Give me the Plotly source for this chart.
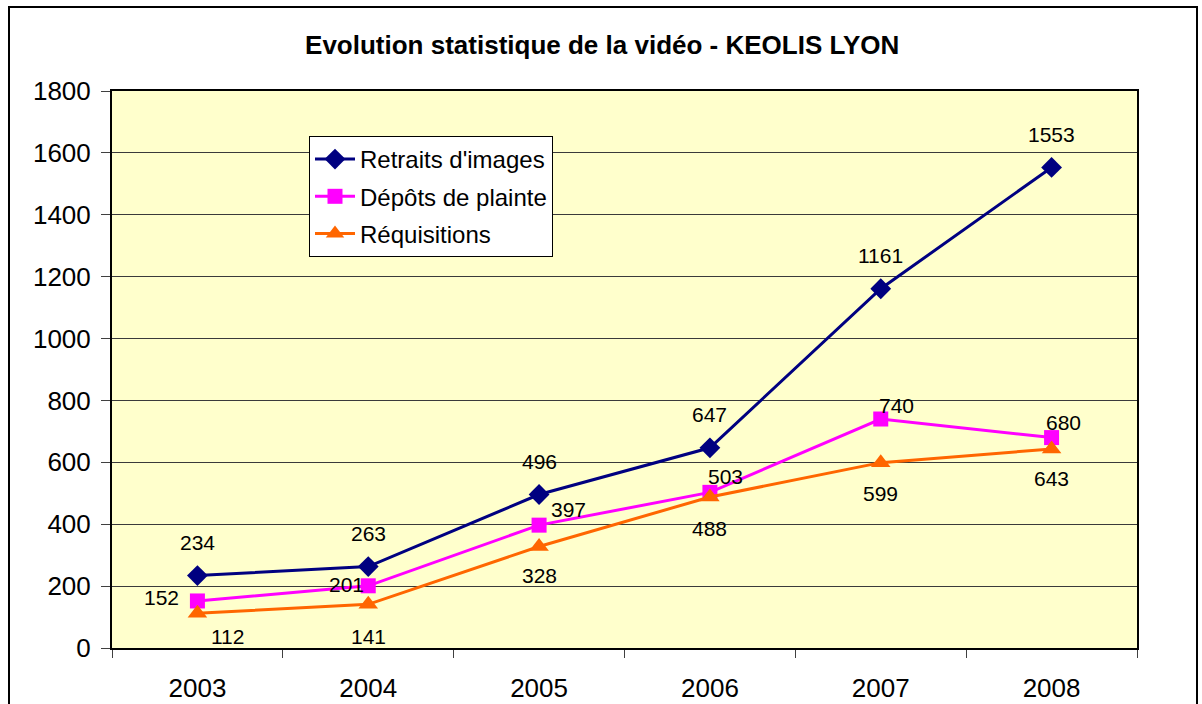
import plotly.graph_objects as go

years = ["2003", "2004", "2005", "2006", "2007", "2008"]
retraits = [234, 263, 496, 647, 1161, 1553]
depots = [152, 201, 397, 503, 740, 680]
requisitions = [112, 141, 328, 488, 599, 643]
y_ticks = [0, 200, 400, 600, 800, 1000, 1200, 1400, 1600, 1800]

title_text = "Evolution statistique de la vidéo - KEOLIS LYON"
names = ["Retraits d'images", "Dépôts de plainte", "Réquisitions"]

FONT = "Liberation Sans, Arial, sans-serif"

# label offsets (pixels) for the data labels, style only
ret_off = [(0, 33)] * 6
dep_off = [(-36, 3), (-22, 1), (29, 16), (16, 16), (16, 14), (12, 15)]
req_off = [(30, -23), (0, -32), (0, -29), (0, -32), (0, -31), (0, -29)]

fig = go.Figure()
series = [
    (retraits, names[0], "#000080", "diamond", 16, ret_off),
    (depots, names[1], "#FF00FF", "square", 15, dep_off),
    (requisitions, names[2], "#FF6600", "triangle-up", 17, req_off),
]
for k, (vals, name, col, sym, size, offs) in enumerate(series):
    fig.add_trace(go.Scatter(
        x=years, y=vals, name=name, mode="lines+markers",
        legendgroup=f"g{k}",
        line=dict(color=col, width=3),
        marker=dict(symbol=sym, size=size, color=col),
    ))
    for i, (yv, (dx, dy)) in enumerate(zip(vals, offs)):
        fig.add_annotation(x=i, y=yv, xref="x", yref="y", text=str(yv),
                           showarrow=False, xshift=dx, yshift=dy,
                           font=dict(family=FONT, size=21, color="black"))

fig.update_layout(
    width=1202, height=704,
    paper_bgcolor="white", plot_bgcolor="#FFFFCC",
    margin=dict(l=112, r=65, t=91, b=56),
    title=dict(text="<b>" + title_text + "</b>", x=0.501, xanchor="center",
               y=1 - 45 / 704, yanchor="middle",
               font=dict(family=FONT, size=26, color="black")),
    font=dict(family=FONT, color="black"),
    legend=dict(x=(309 - 112) / 1025, y=(648 - 136) / 557, xanchor="left", yanchor="top",
                bgcolor="white", bordercolor="black", borderwidth=1,
                font=dict(family=FONT, size=24, color="black"),
                traceorder="grouped", tracegroupgap=3, itemwidth=40),
    showlegend=True,
)
fig.update_xaxes(type="category", tickson="boundaries", ticks="outside", ticklen=8,
                 tickcolor="#404040", showline=True, linecolor="black", linewidth=2,
                 mirror=True, showgrid=False, tickfont=dict(family=FONT, size=26),
                 ticklabelstandoff=16, range=[-0.5, 5.5], automargin=False)
fig.update_yaxes(range=[0, 1800], tickvals=y_ticks, ticks="outside", ticklen=9,
                 tickcolor="#404040", showline=True, linecolor="black", linewidth=2,
                 mirror=True, showgrid=True, gridcolor="#3a3a3a", gridwidth=1,
                 zeroline=False, tickfont=dict(family=FONT, size=26),
                 ticklabelstandoff=5, automargin=False)

# outer chart border
fig.add_shape(type="rect", xref="paper", yref="paper",
              x0=(9 - 112) / 1025, x1=(1197 - 112) / 1025,
              y0=(648 - 720) / 557, y1=(648 - 7) / 557,
              line=dict(color="black", width=2), layer="below")

fig.write_html("out.html", config={"displayModeBar": False},
               post_script="document.body.style.margin='0';")
